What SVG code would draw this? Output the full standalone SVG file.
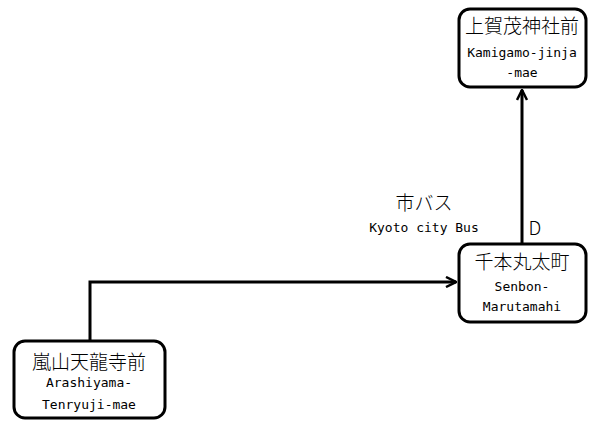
<svg xmlns="http://www.w3.org/2000/svg" width="600" height="430" viewBox="0 0 600 430">
<style>
.box{fill:#fff;stroke:#000;stroke-width:3}
.jp{font-family:"Noto Sans CJK JP","DejaVu Sans",sans-serif;font-size:19px;font-weight:300;text-anchor:middle;fill:#000}
.en{font-family:"DejaVu Sans Mono","Liberation Mono",monospace;font-size:13px;text-anchor:middle;fill:#000}
.edge{fill:none;stroke:#000;stroke-width:3}
</style>
<defs>
<marker id="arr" viewBox="0 0 12 12" refX="11" refY="6" markerWidth="12" markerHeight="12" markerUnits="userSpaceOnUse" orient="auto">
<path d="M1,1 L11,6 L1,11" fill="none" stroke="#000" stroke-width="2.5"/>
</marker>
</defs>
<rect width="600" height="430" fill="#fff"/>
<g id="connectors">
<path class="edge" d="M90,340 V282 H456" marker-end="url(#arr)"/>
<path class="edge" d="M522,243 V90" marker-end="url(#arr)"/>
<text class="jp" x="424" y="210">市バス</text>
<text class="en" x="424" y="232">Kyoto city Bus</text>
<text class="jp" x="535" y="235">D</text>
</g>
<g id="kamigamo">
<rect class="box" x="459" y="9" width="127" height="78" rx="11"/>
<text class="jp" x="522" y="33">上賀茂神社前</text>
<text class="en" x="522" y="57">Kamigamo-jinja</text>
<text class="en" x="522" y="77">-mae</text>
</g>
<g id="senbon">
<rect class="box" x="459" y="244" width="127" height="78" rx="11"/>
<text class="jp" x="522" y="269">千本丸太町</text>
<text class="en" x="522" y="291">Senbon-</text>
<text class="en" x="522" y="311">Marutamahi</text>
</g>
<g id="arashiyama">
<rect class="box" x="14" y="341" width="151" height="77" rx="11"/>
<text class="jp" x="89" y="369">嵐山天龍寺前</text>
<text class="en" x="89" y="387">Arashiyama-</text>
<text class="en" x="89" y="409">Tenryuji-mae</text>
</g>
</svg>
